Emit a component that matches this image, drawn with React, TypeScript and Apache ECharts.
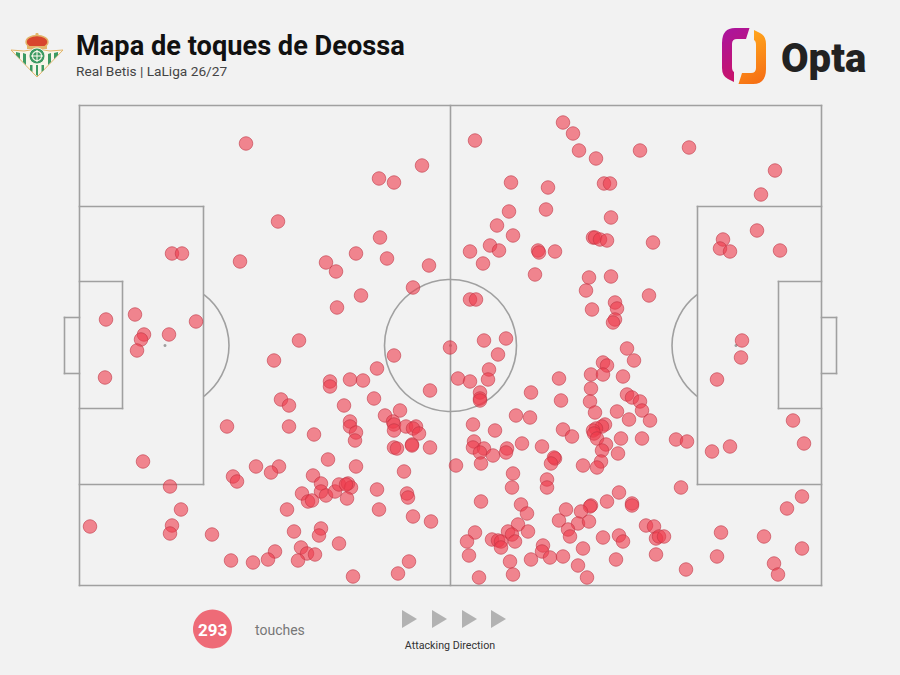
import { useEffect, useRef } from 'react';
import * as echarts from 'echarts';

const TITLE = 'Mapa de toques de Deossa';
const SUBTITLE = 'Real Betis | LaLiga 26/27';
const TOUCH_COUNT = '293';
const TOUCH_LABEL = 'touches';
const DIRECTION_LABEL = 'Attacking Direction';

// pitch units: 742 long, 480 wide, origin top left
const PITCH_LENGTH = 742;
const PITCH_WIDTH = 480;

const ownBox = [
  [92, 147], [102, 147], [160, 155], [55, 208], [26, 213], [64, 228], [61, 233], [57, 244], [89, 228], [116, 215], [25, 271],
];
const ownWide = [[10, 420], [63, 355], [90, 380], [101, 403], [92, 419], [90, 427], [132, 428], [147, 320]];
const ownMiddle = [
  [194, 254], [314, 249], [297, 262], [250, 275], [250, 280], [270, 273], [283, 274], [350, 284], [201, 293], [209, 299],
  [264, 299], [294, 292], [305, 309], [320, 304], [313, 315], [314, 318], [314, 324], [326, 320], [336, 320], [333, 322],
  [339, 327], [209, 320], [234, 328], [270, 315], [270, 320], [276, 326], [275, 334], [314, 341], [317, 342], [332, 338],
  [332, 339], [350, 341], [248, 353], [176, 360], [199, 360], [191, 366], [276, 360], [233, 369], [324, 365], [153, 370],
  [157, 375],
];
const ownLower = [
  [241, 377], [241, 385], [246, 389], [222, 387], [228, 395], [232, 394], [255, 385], [259, 378], [268, 377], [271, 381],
  [267, 392], [297, 383], [299, 403], [327, 387], [328, 391], [207, 403], [333, 410], [351, 415], [241, 422], [239, 429],
  [214, 425], [259, 437], [221, 441], [227, 447], [235, 448], [195, 445], [188, 453], [173, 456], [151, 454], [218, 454],
  [329, 455], [318, 467], [273, 470], [266, 378],
];
const ownUpper = [
  [166, 37], [342, 59], [299, 72], [314, 76], [198, 115], [300, 131], [276, 147], [307, 152], [246, 156], [256, 165],
  [349, 159], [333, 181], [281, 189], [257, 201], [219, 234], [370, 241],
];
const oppMiddle = [
  [418, 248], [409, 263], [408, 273], [378, 272], [390, 275], [400, 286], [400, 292], [400, 294], [451, 286], [479, 272],
  [481, 294], [511, 268], [523, 256], [527, 259], [523, 268], [543, 270], [547, 242], [554, 254], [511, 282], [510, 295],
  [515, 306], [547, 288], [552, 291], [560, 295], [562, 304], [537, 305], [549, 313], [570, 314], [436, 309], [450, 311],
  [393, 318], [415, 324], [483, 323], [492, 330], [525, 318], [522, 320], [516, 322], [513, 324], [514, 327], [517, 332],
  [541, 332], [562, 332], [596, 333], [607, 335], [394, 335], [393, 341], [404, 342], [400, 346], [413, 349], [427, 342],
  [426, 346], [442, 337], [462, 340], [475, 352], [474, 351], [471, 357], [526, 338], [522, 344], [538, 347], [521, 355],
  [517, 361], [503, 359], [401, 357], [376, 359],
];
const oppLower = [
  [433, 367], [432, 381], [467, 373], [467, 381], [601, 381], [539, 386], [527, 395], [552, 397], [552, 399], [511, 399],
  [510, 400], [401, 395], [441, 398], [447, 407], [486, 403], [501, 405], [479, 414], [498, 417], [509, 415], [438, 418],
  [566, 419], [574, 420], [488, 423], [490, 430], [395, 426], [428, 425], [432, 428], [435, 435], [448, 425], [523, 431],
  [539, 429], [543, 435], [576, 432], [579, 430], [584, 430], [387, 435], [412, 433], [418, 434], [421, 435], [421, 441],
  [463, 439], [462, 445], [503, 442], [389, 449], [470, 451], [483, 450], [451, 453], [430, 455], [536, 453], [576, 448],
  [498, 459], [433, 468], [399, 471], [507, 471], [606, 463],
];
const oppTop = [
  [395, 34], [483, 16], [493, 27], [499, 44], [516, 52], [560, 44], [609, 41], [431, 76], [468, 81], [524, 77],
  [530, 77], [466, 103], [429, 105], [531, 111], [417, 119],
];
const oppUpper = [
  [433, 129], [390, 145], [410, 139], [419, 144], [403, 157], [458, 144], [459, 146], [475, 145], [455, 168], [513, 131],
  [515, 131], [520, 133], [527, 134], [573, 136], [509, 171], [531, 170], [506, 184], [569, 189], [535, 196], [537, 202],
  [512, 203], [535, 213], [533, 216], [390, 193], [396, 193], [404, 234], [426, 232],
];
const oppBox = [
  [695, 64], [681, 88], [677, 124], [643, 133], [640, 142], [650, 145], [700, 144], [662, 234], [661, 251], [637, 273],
  [713, 314], [724, 337], [650, 340], [632, 345], [722, 390], [707, 402], [641, 426], [684, 430], [722, 442], [637, 450],
  [694, 457], [698, 468],
];

const touches = [
  ...ownBox, ...ownWide, ...ownMiddle, ...ownLower, ...ownUpper,
  ...oppMiddle, ...oppLower, ...oppTop, ...oppUpper, ...oppBox,
];

// x1, y1, x2, y2
const pitchLines = [
  [-0.5, -1, 741.5, -1], [-0.5, 479, 741.5, 479], [-0.5, -1, -0.5, 479], [741.5, -1, 741.5, 479], [370.5, -1, 370.5, 479],
  [-0.5, 100, 123.5, 100], [123.5, 100, 123.5, 378], [-0.5, 378, 123.5, 378],
  [-0.5, 175, 42.5, 175], [42.5, 175, 42.5, 302], [-0.5, 302, 42.5, 302],
  [-15.5, 211, -0.5, 211], [-15.5, 211, -15.5, 267], [-15.5, 267, -0.5, 267],
  [617.5, 100, 741.5, 100], [617.5, 100, 617.5, 378], [617.5, 378, 741.5, 378],
  [698.5, 175, 741.5, 175], [698.5, 175, 698.5, 302], [698.5, 302, 741.5, 302],
  [741.5, 211, 756.5, 211], [756.5, 211, 756.5, 267], [741.5, 267, 756.5, 267],
];
// cx, cy, r, start, end
const pitchArcs = [
  [370.5, 239, 66, 0, Math.PI * 2],
  [85, 239, 64, -0.916, 0.916],
  [656, 239, 64, Math.PI - 0.916, Math.PI + 0.916],
];
const pitchSpots = [[85, 239], [370.5, 239], [656, 239]];

const arrowStarts = [402, 432, 462, 491];

const LINE_COLOR = '#a0a0a0';
const TEXT_FONT = 'Roboto, sans-serif';

const optaLeft = 'M27.5 0 L13 0 Q0 0 0 15 L0 40 Q0 48 6 51 L12 54 L12 44 Q10 43 10 39 L10 16 Q10 11 15 11 L24 11 Z';
echarts.graphic.registerShape('optaHalf', echarts.graphic.extendPath(optaLeft, {}));

function badgeElements() {
  const green = '#3c9a63';
  const gold = '#e3b56a';
  const stripes = [
    [[16, 52], [20, 53], [20, 59], [16, 55]],
    [[23, 53], [26, 54], [26, 65], [23, 62]],
    [[48, 54], [51, 53], [51, 62], [48, 65]],
    [[54, 53], [58, 52], [58, 55], [54, 59]],
    [[30, 65], [32.5, 65], [32.5, 72], [30, 70]],
    [[36, 65], [38, 65], [38, 76], [36, 75]],
    [[41.5, 65], [44, 65], [44, 70], [41.5, 72]],
  ];
  return [
    { type: 'polygon', shape: { points: [[11, 50], [24, 51], [37, 49], [50, 51], [63, 50], [37, 77]] }, style: { fill: '#f8f6ea', stroke: gold, lineWidth: 1 } },
    ...stripes.map((points) => ({ type: 'polygon', shape: { points }, style: { fill: green } })),
    { type: 'ellipse', shape: { cx: 37, cy: 42, rx: 11, ry: 6.5 }, style: { fill: '#d8452e', stroke: gold, lineWidth: 1.4 } },
    { type: 'rect', shape: { x: 27, y: 46, width: 20, height: 3 }, style: { fill: gold } },
    { type: 'circle', shape: { cx: 37, cy: 34.5, r: 1.6 }, style: { fill: gold } },
    { type: 'circle', shape: { cx: 37, cy: 56, r: 8 }, style: { fill: green, stroke: '#f8f6ea', lineWidth: 1 } },
    { type: 'circle', shape: { cx: 37, cy: 56, r: 4.6 }, style: { fill: 'none', stroke: '#f8f6ea', lineWidth: 1.1 } },
    { type: 'line', shape: { x1: 37, y1: 50, x2: 37, y2: 62 }, style: { stroke: '#f8f6ea', lineWidth: 1.1 } },
    { type: 'line', shape: { x1: 31, y1: 56, x2: 43, y2: 56 }, style: { stroke: '#f8f6ea', lineWidth: 1.1 } },
  ];
}

function graphicElements() {
  return [
    ...badgeElements(),
    { type: 'text', x: 76, y: 46, style: { text: TITLE, font: `700 27.2px ${TEXT_FONT}`, fill: '#111', textVerticalAlign: 'middle' } },
    { type: 'text', x: 76, y: 71, style: { text: SUBTITLE, font: `400 13.7px ${TEXT_FONT}`, fill: '#444', textVerticalAlign: 'middle' } },
    {
      type: 'optaHalf', x: 722, y: 28,
      style: { fill: new echarts.graphic.LinearGradient(0, 0, 0.3, 1, [{ offset: 0, color: '#a914a0' }, { offset: 1, color: '#c8146a' }]) },
    },
    {
      type: 'optaHalf', x: 766, y: 84, rotation: Math.PI,
      style: { fill: new echarts.graphic.LinearGradient(0, 0, 0.3, 1, [{ offset: 0, color: '#f56a14' }, { offset: 1, color: '#ffa41c' }]) },
    },
    { type: 'text', x: 781, y: 58, style: { text: 'Opta', font: `900 40px ${TEXT_FONT}`, fill: '#222', textVerticalAlign: 'middle' } },
    { type: 'circle', shape: { cx: 212.5, cy: 629, r: 19.5 }, style: { fill: '#ee6b77' } },
    { type: 'text', x: 212.5, y: 630, style: { text: TOUCH_COUNT, font: `700 17px ${TEXT_FONT}`, fill: '#fff', textAlign: 'center', textVerticalAlign: 'middle' } },
    { type: 'text', x: 255, y: 630, style: { text: TOUCH_LABEL, font: `400 14px ${TEXT_FONT}`, fill: '#777', textVerticalAlign: 'middle' } },
    ...arrowStarts.map((x) => ({
      type: 'polygon',
      shape: { points: [[x, 610], [x + 15, 619], [x, 628]] },
      style: { fill: '#b2b2b2' },
    })),
    { type: 'text', x: 450, y: 645, style: { text: DIRECTION_LABEL, font: `400 10.7px ${TEXT_FONT}`, fill: '#333', textAlign: 'center', textVerticalAlign: 'middle' } },
  ];
}

export default function App() {
  const ref = useRef<HTMLDivElement>(null);

  useEffect(() => {
    if (!ref.current) {
      return undefined;
    }

    const chart = echarts.init(ref.current, undefined, { renderer: 'svg' });
    const option: echarts.EChartsOption = {
      animation: false,
      backgroundColor: '#f2f2f2',
      grid: { left: 80, top: 106.5, width: PITCH_LENGTH, height: PITCH_WIDTH },
      xAxis: { type: 'value', min: 0, max: PITCH_LENGTH, show: false },
      yAxis: { type: 'value', min: 0, max: PITCH_WIDTH, inverse: true, show: false },
      graphic: graphicElements() as any,
      series: [
        {
          type: 'custom',
          silent: true,
          clip: false,
          z: 1,
          data: pitchLines,
          renderItem: (_params: any, api: any) => {
            const a = api.coord([api.value(0), api.value(1)]);
            const b = api.coord([api.value(2), api.value(3)]);
            return {
              type: 'line',
              shape: { x1: a[0], y1: a[1], x2: b[0], y2: b[1] },
              style: { stroke: LINE_COLOR, lineWidth: 1.6, lineCap: 'square' },
            };
          },
        } as any,
        {
          type: 'custom',
          silent: true,
          clip: false,
          z: 1,
          data: pitchArcs,
          renderItem: (_params: any, api: any) => {
            const c = api.coord([api.value(0), api.value(1)]);
            return {
              type: 'arc',
              shape: { cx: c[0], cy: c[1], r: api.size([api.value(2), 0])[0], startAngle: api.value(3), endAngle: api.value(4) },
              style: { stroke: LINE_COLOR, lineWidth: 1.6, fill: 'none' },
            };
          },
        } as any,
        {
          type: 'scatter',
          silent: true,
          z: 2,
          data: pitchSpots,
          symbolSize: 3,
          itemStyle: { color: '#8a8a8a' },
        },
        {
          type: 'scatter',
          silent: true,
          z: 3,
          data: touches,
          symbolSize: 13.5,
          itemStyle: { color: '#ee3a4b', opacity: 0.6, borderColor: '#bf3644', borderWidth: 1 },
        },
      ],
    };

    chart.setOption(option);

    return () => {
      chart.dispose();
    };
  }, []);

  return <div ref={ref} style={{ position: 'fixed', left: 0, top: 0, width: 900, height: 675 }} />;
}
